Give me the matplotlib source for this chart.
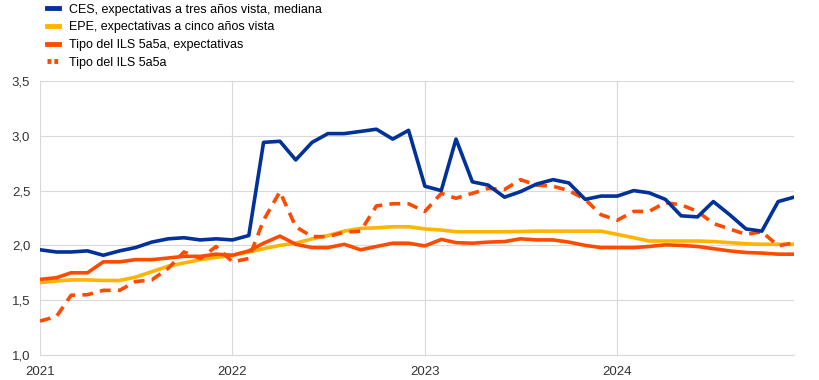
import numpy as np
import pandas as pd
import matplotlib
matplotlib.use("Agg")
import matplotlib.pyplot as plt

plt.rcParams["font.family"] = ["Liberation Sans", "DejaVu Sans"]
plt.rcParams["font.size"] = 9.5

# monthly data, Jan 2021 - Dec 2024
dates = pd.date_range("2021-01-01", periods=48, freq="MS")

ces = [1.96, 1.94, 1.94, 1.95, 1.91, 1.95, 1.98, 2.03, 2.06, 2.07, 2.05, 2.06,
       2.05, 2.09, 2.94, 2.95, 2.78, 2.94, 3.02, 3.02, 3.04, 3.06, 2.97, 3.05,
       2.54, 2.50, 2.97, 2.58, 2.55, 2.44, 2.49, 2.56, 2.60, 2.57, 2.42, 2.45,
       2.45, 2.50, 2.48, 2.42, 2.27, 2.26, 2.40, 2.28, 2.15, 2.13, 2.40, 2.44]

epe = [1.66, 1.675, 1.685, 1.685, 1.68, 1.68, 1.71, 1.76, 1.81, 1.84, 1.87, 1.89,
       1.91, 1.94, 1.97, 2.00, 2.02, 2.06, 2.09, 2.13, 2.155, 2.16, 2.17, 2.17,
       2.15, 2.14, 2.125, 2.125, 2.125, 2.125, 2.127, 2.13, 2.13, 2.13, 2.13, 2.13,
       2.10, 2.07, 2.04, 2.04, 2.04, 2.04, 2.035, 2.025, 2.015, 2.01, 2.01, 2.01]

ils_exp = [1.69, 1.705, 1.75, 1.75, 1.85, 1.85, 1.87, 1.87, 1.885, 1.90, 1.90, 1.92,
           1.91, 1.95, 2.02, 2.085, 2.01, 1.98, 1.98, 2.01, 1.96, 1.99, 2.02, 2.02,
           1.995, 2.055, 2.025, 2.02, 2.03, 2.035, 2.06, 2.05, 2.05, 2.03, 2.00, 1.98,
           1.98, 1.98, 1.99, 2.005, 2.00, 1.99, 1.97, 1.95, 1.935, 1.93, 1.92, 1.92]

ils = [1.31, 1.35, 1.545, 1.55, 1.59, 1.59, 1.67, 1.685, 1.79, 1.94, 1.88, 1.99,
       1.85, 1.88, 2.23, 2.49, 2.17, 2.08, 2.08, 2.12, 2.13, 2.36, 2.38, 2.38,
       2.31, 2.475, 2.43, 2.475, 2.52, 2.51, 2.60, 2.55, 2.54, 2.50, 2.42, 2.28,
       2.23, 2.31, 2.31, 2.39, 2.37, 2.31, 2.20, 2.15, 2.10, 2.125, 1.995, 2.025]

labels = ["CES, expectativas a tres años vista, mediana",
          "EPE, expectativas a cinco años vista",
          "Tipo del ILS 5a5a, expectativas",
          "Tipo del ILS 5a5a"]

blue = "#003299"
yellow = "#FFB400"
orange = "#FF4B00"

fig = plt.figure(figsize=(8.2, 3.8), dpi=100)
ax = fig.add_axes([40/820, 25/380, 754/820, 274/380])

ax.plot(dates, ces, color=blue, lw=2.6, label=labels[0], zorder=4)
ax.plot(dates, epe, color=yellow, lw=2.6, label=labels[1], zorder=2)
ax.plot(dates, ils_exp, color=orange, lw=2.6, label=labels[2], zorder=3)
ax.plot(dates, ils, color=orange, lw=2.6, ls=(0, (3, 2)), label=labels[3], zorder=3)

ax.set_xlim(dates[0], dates[-1])
ax.set_ylim(1.0, 3.5)
ax.set_yticks(np.arange(1.0, 3.51, 0.5))
ax.set_yticklabels([f"{v:.1f}".replace(".", ",") for v in np.arange(1.0, 3.51, 0.5)])
years = pd.to_datetime(["2021-01-01", "2022-01-01", "2023-01-01", "2024-01-01"])
ax.set_xticks(years)
ax.set_xticklabels(["2021", "2022", "2023", "2024"])

ax.grid(True, color="#d9d9d9", lw=0.8)
ax.set_axisbelow(True)
for s in ["top", "right", "left"]:
    ax.spines[s].set_visible(False)
ax.spines["bottom"].set_color("#d9d9d9")
ax.tick_params(length=0, colors="#333333", labelsize=9.5)
ax.tick_params(axis="y", pad=7)
ax.tick_params(axis="x", pad=8)

leg = fig.legend(loc="upper left", bbox_to_anchor=(36/820, 1.02), frameon=False,
                 handlelength=0.95, handletextpad=0.8, labelspacing=0.45,
                 fontsize=9)
for h in leg.get_lines():
    h.set_linewidth(3.5)
leg.get_lines()[3].set_linestyle((0, (0.8, 0.6)))

fig.savefig("out.png", dpi=100)
